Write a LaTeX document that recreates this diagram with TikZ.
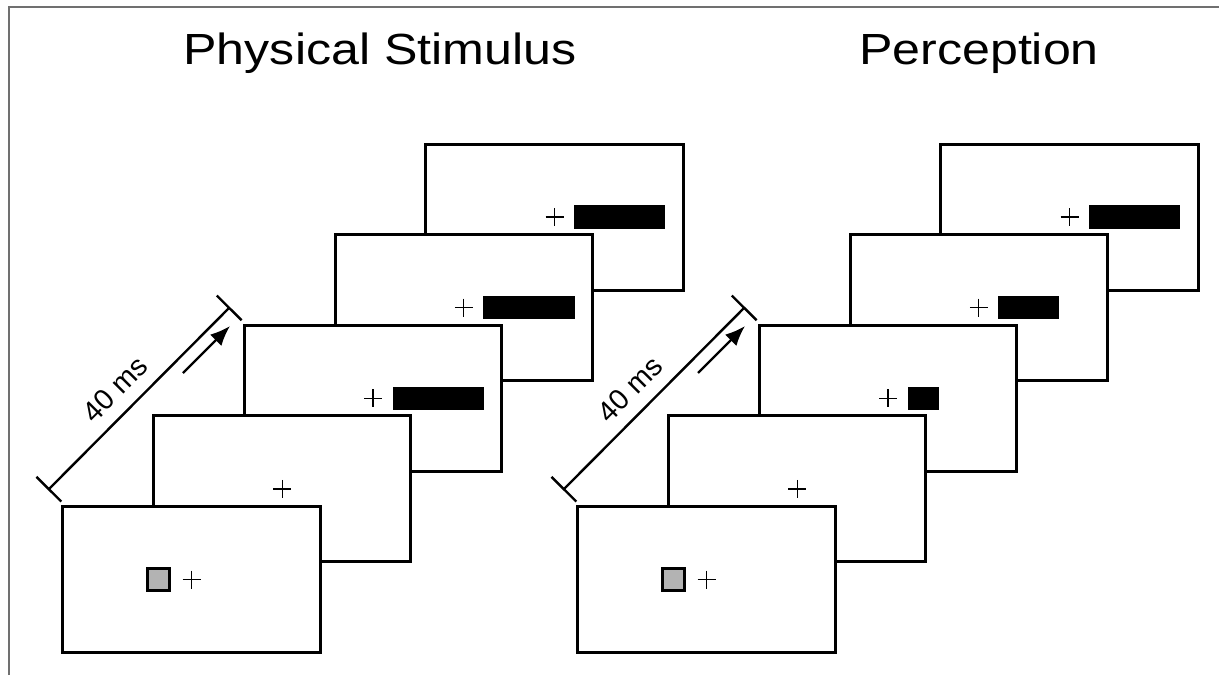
\documentclass[tikz,border=0pt]{standalone}
\usepackage{graphicx}
\usepackage{fontspec}
\setmainfont{Liberation Sans}
\usetikzlibrary{calc,arrows.meta}

\definecolor{framegray}{HTML}{707070}
\definecolor{probegray}{HTML}{B3B3B3}

\tikzset{
  screen/.style={draw, line width=0.85pt, fill=white, minimum width=2.57cm, minimum height=1.46cm, inner sep=0pt},
  probe/.style={draw, line width=0.7pt, fill=probegray, minimum size=0.22cm, inner sep=0pt},
  flash/.style={fill=black, inner sep=0pt, minimum height=0.235cm, anchor=west},
  fix/.style={line width=0.4pt},
  heading/.style={anchor=base, font=\fontsize{12.4}{14}\selectfont},
  scaleline/.style={line width=0.68pt},
}

\begin{document}
\begin{tikzpicture}[x=0.01cm, y=-0.01cm]
\useasboundingbox (0,0) rectangle (1219,675);
\draw[framegray, line width=0.45pt] (9,675) -- (9,7) -- (1219,7);

\node[heading] (phys) at (380,64) {\scalebox{1.15}[1]{Physical Stimulus}};
\node[heading] (perc) at (979,64) {\scalebox{1.15}[1]{Perception}};

% s = stimulus panel, p = perception panel; bar widths of the last three frames
\foreach \p/\dx/\wa/\wb/\wc in {s/0/0.91/0.91/0.91, p/515/0.31/0.60/0.91} {
  \begin{scope}[shift={(\dx,0)}]
    % frames, back to front
    \foreach \k in {4,...,0} {
      \node[screen] (\p\k) at ({191.5+90.75*\k},{579.5-90.6*\k}) {};
      \draw[fix] (\p\k.center) +(-9,0) -- +(9,0) +(0,-9) -- +(0,9);
    }
    \node[probe] (\p probe) at ($(\p0.center)+(-33,0)$) {};
    \node[flash, minimum width=\wa cm] (\p bar2) at ($(\p2.center)+(19,0)$) {};
    \node[flash, minimum width=\wb cm] (\p bar3) at ($(\p3.center)+(19,0)$) {};
    \node[flash, minimum width=\wc cm] (\p bar4) at ($(\p4.center)+(19,0)$) {};
    % time scale
    \coordinate (\p from) at (48,490);
    \coordinate (\p to) at (230,307);
    \draw[scaleline, {Bar[width=0.35cm]}-{Bar[width=0.35cm]}] (\p from) -- (\p to)
      node[pos=0.46, above=0pt, sloped, font=\fontsize{8.2}{10}\selectfont] {40 ms};
    \coordinate (\p tail) at (183,373);
    \coordinate (\p head) at (230,326);
    \draw[scaleline, -{Latex[length=0.2cm,width=0.16cm]}] (\p tail) -- (\p head);
  \end{scope}
}
\end{tikzpicture}
\end{document}
